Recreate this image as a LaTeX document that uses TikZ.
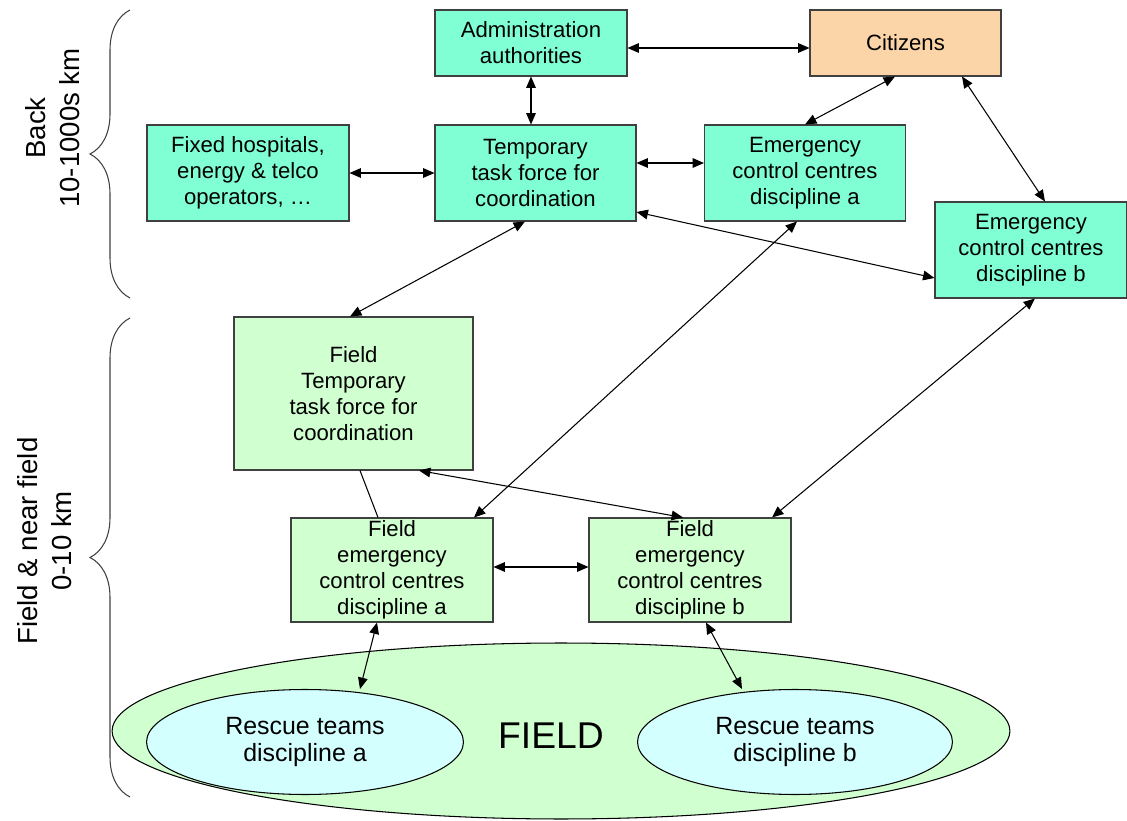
\documentclass[tikz,border=0pt]{standalone}
\usepackage{fontspec}
\setmainfont{Liberation Sans}
\usetikzlibrary{arrows.meta,shapes.geometric,decorations.pathreplacing}
\definecolor{backgreen}{RGB}{128,255,212}
\definecolor{fieldgreen}{RGB}{208,255,208}
\definecolor{rescuecyan}{RGB}{212,255,255}
\definecolor{citizenorange}{RGB}{251,213,168}
\definecolor{edgegray}{RGB}{64,64,64}
\begin{document}
\begin{tikzpicture}[x=0.02cm,y=-0.02cm]
            \useasboundingbox (0,0) rectangle (1127,821);
            % field area with the rescue teams
            \begin{scope}[every node/.style={ellipse,draw=black,line width=0.6pt,inner sep=0pt,align=center,font=\fontsize{14.2}{18}\selectfont}]
                \node[fill=fieldgreen,minimum width=17.96cm,minimum height=3.52cm] (fieldarea) at (561,731) {};
                \node[fill=rescuecyan,minimum width=6.34cm,minimum height=2.1cm] (rescuea) at (305,742) {\raisebox{-0.1cm}{\shortstack{Rescue teams\\[2pt]discipline a}}};
                \node[fill=rescuecyan,minimum width=6.3cm,minimum height=2.1cm] (rescueb) at (795,742) {\raisebox{-0.1cm}{\shortstack{Rescue teams\\[2pt]discipline b}}};
            \end{scope}
            \node[font=\fontsize{21.2}{25}\selectfont] (fieldtext) at (551,736) {FIELD};
            % boxes
            \begin{scope}[every node/.style={rectangle,draw=edgegray,line width=0.6pt,inner sep=0pt,align=center,font=\fontsize{12.6}{14.8}\selectfont}]
                \node[fill=backgreen,minimum width=3.84cm,minimum height=1.32cm] (admin) at (531,43) {Administration\\authorities};
                \node[fill=citizenorange,minimum width=3.82cm,minimum height=1.32cm] (citizens) at (905.5,43) {Citizens};
                \node[fill=backgreen,minimum width=4.04cm,minimum height=1.92cm] (hospitals) at (248,173) {Fixed hospitals,\\energy \& telco\\operators, …};
                \node[fill=backgreen,minimum width=4.02cm,minimum height=1.92cm] (taskforce) at (535.5,173) {Temporary\\task force for\\coordination};
                \node[fill=backgreen,minimum width=4.02cm,minimum height=1.92cm] (ecca) at (805,173) {Emergency\\control centres\\discipline a};
                \node[fill=backgreen,minimum width=3.84cm,minimum height=1.92cm] (eccb) at (1031,250) {Emergency\\control centres\\discipline b};
                \node[fill=fieldgreen,minimum width=4.78cm,minimum height=3.06cm] (fieldtf) at (353.5,393.5) {Field\\Temporary\\task force for\\coordination};
                \node[fill=fieldgreen,minimum width=4.04cm,minimum height=2.08cm] (fielda) at (392,570) {Field\\emergency\\control centres\\discipline a};
                \node[fill=fieldgreen,minimum width=4.04cm,minimum height=2.08cm] (fieldb) at (690,570) {Field\\emergency\\control centres\\discipline b};
            \end{scope}
            % links
            \begin{scope}[every edge/.style={draw,line width=0.6pt,<->,>={Triangle[length=6.5pt,width=5.5pt]}}]
                \path
                    (admin.east |- 0,48) edge (citizens.west |- 0,48)
                    (admin.south) edge (admin.south |- taskforce.north)
                    (citizens.south -| 895,0) edge (ecca.north)
                    (citizens.south -| 962,0) edge (eccb.north -| 1045,0)
                    (hospitals.east) edge (taskforce.west)
                    (taskforce.east |- 0,163) edge (ecca.west |- 0,163)
                    (taskforce.east |- 0,212) edge (eccb.west |- 0,278)
                    (taskforce.south -| 525,0) edge (fieldtf.north -| 350,0)
                    (ecca.south -| 797,0) edge (fielda.north -| 474,0)
                    (eccb.south -| 1035,0) edge (fieldb.north -| 772,0)
                    (fieldtf.south -| 419,0) edge (fieldb.north -| 683,0)
                    (fieldtf.south -| 360,0) edge [-] (fielda.north -| 378,0)
                    (fielda.east |- 0,567) edge (fieldb.west |- 0,567)
                    (fielda.south -| 377,0) edge (rescuea.north -| 360,0)
                    (fieldb.south -| 706,0) edge (rescueb.north -| 742,0);
            \end{scope}
            % distance ranges
            \begin{scope}[every path/.style={draw=edgegray,line width=0.6pt,decorate,decoration={brace,amplitude=0.8cm}}]
                \path (130,298) -- (130,10);
                \path (130,797) -- (130,318);
            \end{scope}
            \begin{scope}[every node/.style={rotate=90,align=center,font=\fontsize{15.7}{19.3}\selectfont}]
                \node (backrange) at (53,128) {Back\\10-1000s km};
                \node (fieldrange) at (45,541) {Field \& near field\\0-10 km};
            \end{scope}
        \end{tikzpicture}
\end{document}
